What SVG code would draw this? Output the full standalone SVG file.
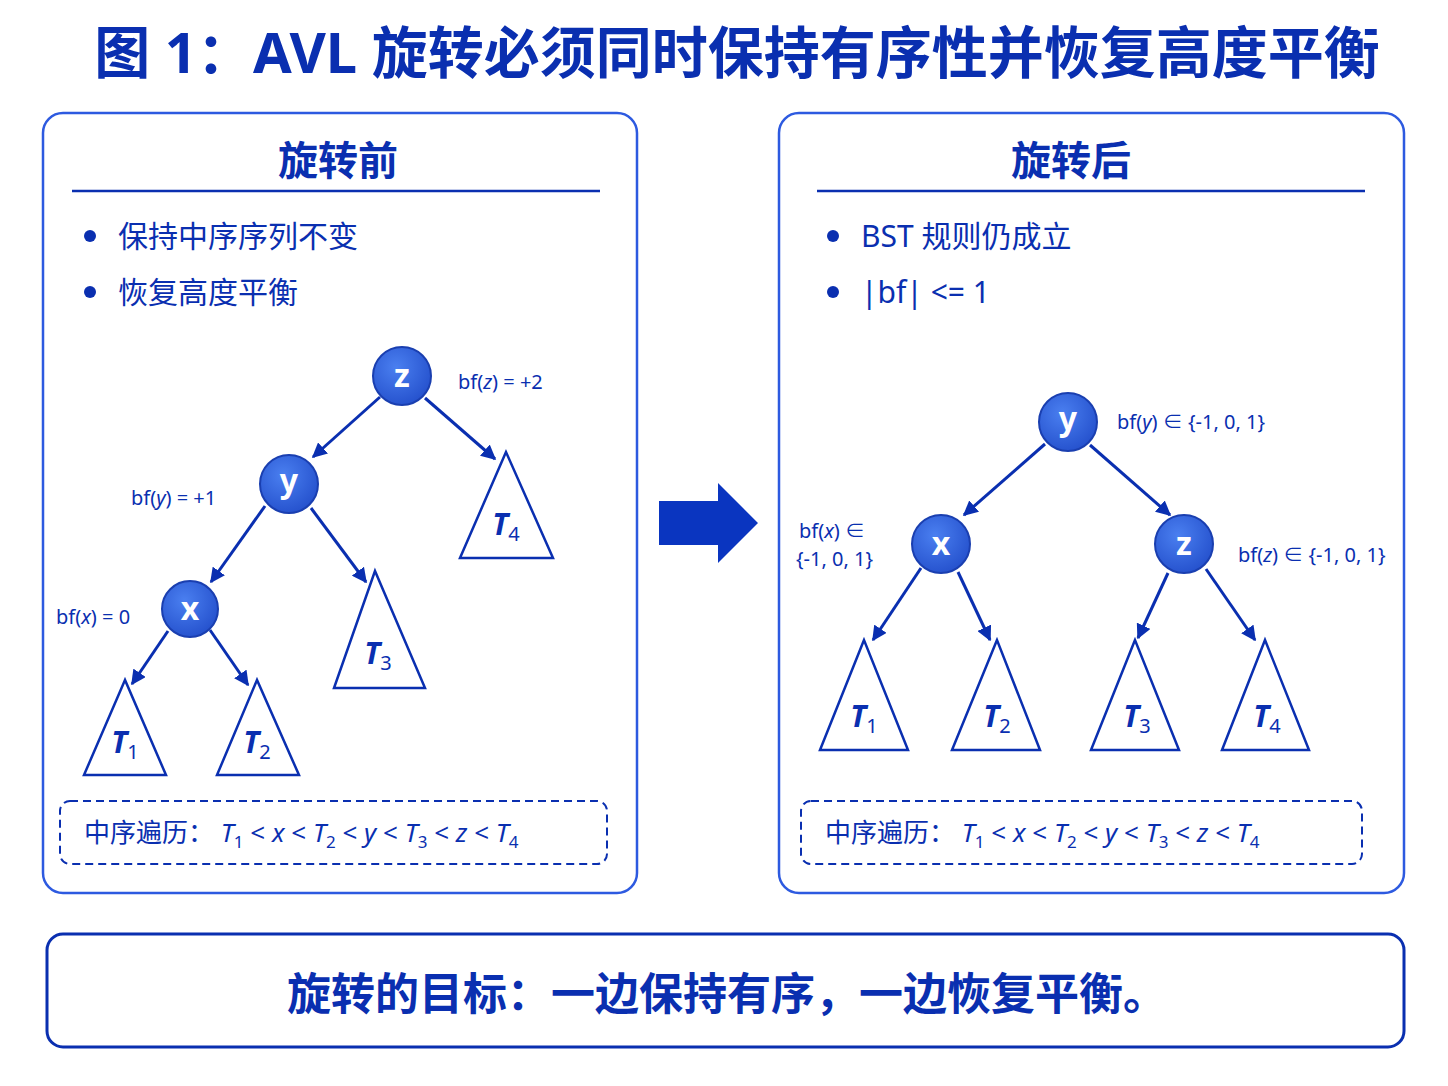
<svg xmlns="http://www.w3.org/2000/svg" width="1448" height="1086" viewBox="0 0 1448 1086">
<defs>
<radialGradient id="ng" cx="0.4" cy="0.35" r="0.7"><stop offset="0" stop-color="#4a7ff0"/><stop offset="1" stop-color="#2450cc"/></radialGradient>
<marker id="ah" viewBox="0 0 10 10" refX="9" refY="5" markerWidth="5" markerHeight="5" orient="auto"><path d="M0,0 L10,5 L0,10 z" fill="#0a2fb0"/></marker>
</defs>
<style>
text{font-family:"Noto Sans","Noto Sans CJK SC",sans-serif;fill:#0a2fb0}
.panel{fill:#fff;stroke:#2d5ae0;stroke-width:2.5}
.node{fill:url(#ng);stroke:#1a3fb0;stroke-width:2}
.nl{fill:#fff;font-size:32px;font-weight:bold;text-anchor:middle}
.tri{fill:#fff;stroke:#0a2fb0;stroke-width:2.5}
.tl{font-size:30px;font-weight:bold;font-style:italic;text-anchor:middle}
.sub{font-size:20px;font-style:normal;font-weight:normal}
.edge{stroke:#0a2fb0;stroke-width:3;fill:none;marker-end:url(#ah)}
.bf{font-size:20px}
.bul{font-size:30px}
.dash{fill:none;stroke:#0a2fb0;stroke-width:2;stroke-dasharray:8 5}
.io{font-size:26px}
.it{font-style:italic}
</style>
<rect width="1448" height="1086" fill="#fff"/>
<text x="737" y="73" font-size="56" font-weight="bold" text-anchor="middle" fill="#1233b0">图 1：AVL 旋转必须同时保持有序性并恢复高度平衡</text>

<g id="left-panel">
<rect class="panel" x="43" y="113" width="594" height="780" rx="20"/>
<text x="338" y="175" font-size="40" font-weight="bold" text-anchor="middle">旋转前</text>
<line x1="72" y1="191" x2="600" y2="191" stroke="#0a2fb0" stroke-width="2.5"/>
<circle cx="90" cy="236" r="6" fill="#0a2fb0"/><text class="bul" x="118" y="247">保持中序序列不变</text>
<circle cx="90" cy="292" r="6" fill="#0a2fb0"/><text class="bul" x="118" y="303">恢复高度平衡</text>
</g>
<g id="right-panel">
<rect class="panel" x="779" y="113" width="625" height="780" rx="20"/>
<text x="1071" y="175" font-size="40" font-weight="bold" text-anchor="middle">旋转后</text>
<line x1="817" y1="191" x2="1365" y2="191" stroke="#0a2fb0" stroke-width="2.5"/>
<circle cx="833" cy="236" r="6" fill="#0a2fb0"/><text class="bul" x="861" y="247">BST 规则仍成立</text>
<circle cx="833" cy="292" r="6" fill="#0a2fb0"/><text class="bul" x="861" y="303">|bf| &lt;= 1</text>
</g>

<g id="connectors">
<line class="edge" x1="380" y1="397" x2="313" y2="457"/>
<line class="edge" x1="425" y1="398" x2="495" y2="459"/>
<line class="edge" x1="265" y1="506" x2="211" y2="582"/>
<line class="edge" x1="311" y1="508" x2="366" y2="582"/>
<line class="edge" x1="168" y1="631" x2="132" y2="684"/>
<line class="edge" x1="210" y1="630" x2="248" y2="685"/>
<line class="edge" x1="1045" y1="444" x2="964" y2="515"/>
<line class="edge" x1="1090" y1="445" x2="1170" y2="515"/>
<line class="edge" x1="921" y1="568" x2="873" y2="640"/>
<line class="edge" x1="958" y1="572" x2="990" y2="640"/>
<line class="edge" x1="1168" y1="573" x2="1138" y2="638"/>
<line class="edge" x1="1206" y1="569" x2="1255" y2="640"/>
</g>

<g id="L-z"><circle class="node" cx="402" cy="376" r="29"/><text class="nl" x="402" y="387">z</text></g>
<g id="L-y"><circle class="node" cx="289" cy="484" r="29"/><text class="nl" x="289" y="492">y</text></g>
<g id="L-x"><circle class="node" cx="190" cy="609" r="28"/><text class="nl" x="190" y="620">x</text></g>
<g id="L-T4"><polygon class="tri" points="506,452 460,558 553,558"/><text class="tl" x="506" y="535">T<tspan class="sub" dy="6">4</tspan></text></g>
<g id="L-T3"><polygon class="tri" points="375,571 334,688 425,688"/><text class="tl" x="378" y="664">T<tspan class="sub" dy="6">3</tspan></text></g>
<g id="L-T1"><polygon class="tri" points="125,680 84,775 166,775"/><text class="tl" x="125" y="753">T<tspan class="sub" dy="6">1</tspan></text></g>
<g id="L-T2"><polygon class="tri" points="257,680 217,775 299,775"/><text class="tl" x="257" y="753">T<tspan class="sub" dy="6">2</tspan></text></g>
<text class="bf" x="458" y="389">bf(<tspan class="it">z</tspan>) = +2</text>
<text class="bf" x="131" y="505">bf(<tspan class="it">y</tspan>) = +1</text>
<text class="bf" x="56" y="624">bf(<tspan class="it">x</tspan>) = 0</text>

<g id="R-y"><circle class="node" cx="1068" cy="422" r="29"/><text class="nl" x="1068" y="430">y</text></g>
<g id="R-x"><circle class="node" cx="941" cy="544" r="29"/><text class="nl" x="941" y="555">x</text></g>
<g id="R-z"><circle class="node" cx="1184" cy="544" r="29"/><text class="nl" x="1184" y="555">z</text></g>
<g id="R-T1"><polygon class="tri" points="864,640 820,750 908,750"/><text class="tl" x="864" y="727">T<tspan class="sub" dy="6">1</tspan></text></g>
<g id="R-T2"><polygon class="tri" points="997,640 952,750 1040,750"/><text class="tl" x="997" y="727">T<tspan class="sub" dy="6">2</tspan></text></g>
<g id="R-T3"><polygon class="tri" points="1135,640 1091,750 1179,750"/><text class="tl" x="1137" y="727">T<tspan class="sub" dy="6">3</tspan></text></g>
<g id="R-T4"><polygon class="tri" points="1265,640 1222,750 1309,750"/><text class="tl" x="1267" y="727">T<tspan class="sub" dy="6">4</tspan></text></g>
<text class="bf" x="1117" y="429">bf(<tspan class="it">y</tspan>) ∈ {-1, 0, 1}</text>
<text class="bf" x="799" y="538">bf(<tspan class="it">x</tspan>) ∈</text>
<text class="bf" x="796" y="566">{-1, 0, 1}</text>
<text class="bf" x="1238" y="562">bf(<tspan class="it">z</tspan>) ∈ {-1, 0, 1}</text>

<g id="L-inorder"><rect class="dash" x="60" y="801" width="547" height="63" rx="10"/>
<text class="io" x="84" y="842">中序遍历：  <tspan class="it">T</tspan><tspan font-size="17" dy="6">1</tspan><tspan dy="-6"> &lt; </tspan><tspan class="it">x</tspan> &lt; <tspan class="it">T</tspan><tspan font-size="17" dy="6">2</tspan><tspan dy="-6"> &lt; </tspan><tspan class="it">y</tspan> &lt; <tspan class="it">T</tspan><tspan font-size="17" dy="6">3</tspan><tspan dy="-6"> &lt; </tspan><tspan class="it">z</tspan> &lt; <tspan class="it">T</tspan><tspan font-size="17" dy="6">4</tspan></text></g>
<g id="R-inorder"><rect class="dash" x="801" y="801" width="561" height="63" rx="10"/>
<text class="io" x="825" y="842">中序遍历：  <tspan class="it">T</tspan><tspan font-size="17" dy="6">1</tspan><tspan dy="-6"> &lt; </tspan><tspan class="it">x</tspan> &lt; <tspan class="it">T</tspan><tspan font-size="17" dy="6">2</tspan><tspan dy="-6"> &lt; </tspan><tspan class="it">y</tspan> &lt; <tspan class="it">T</tspan><tspan font-size="17" dy="6">3</tspan><tspan dy="-6"> &lt; </tspan><tspan class="it">z</tspan> &lt; <tspan class="it">T</tspan><tspan font-size="17" dy="6">4</tspan></text></g>

<g id="big-arrow"><polygon points="659,501 718,501 718,483 758,523 718,563 718,545 659,545" fill="#0a35c0"/></g>

<g id="summary"><rect x="47" y="934" width="1357" height="113" rx="16" fill="#fff" stroke="#0a2fb0" stroke-width="3"/>
<text x="727" y="1010" font-size="44" font-weight="bold" text-anchor="middle">旋转的目标：一边保持有序，一边恢复平衡。</text></g>
</svg>
